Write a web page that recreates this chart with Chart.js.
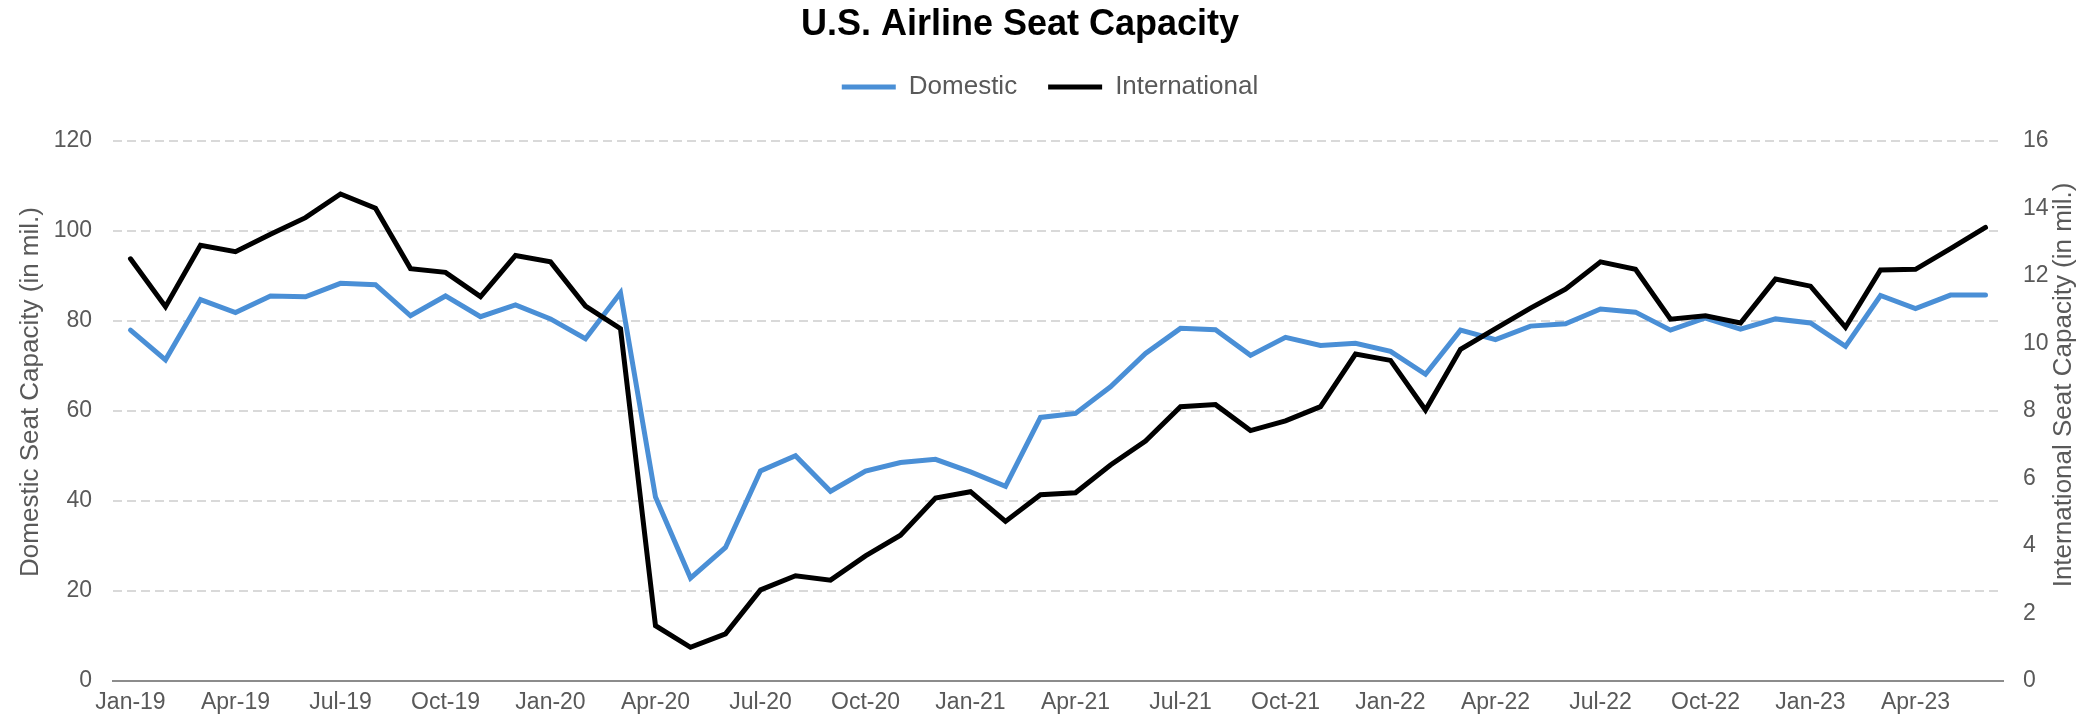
<!DOCTYPE html>
<html>
<head>
<meta charset="utf-8">
<title>U.S. Airline Seat Capacity</title>
<script src="https://cdn.jsdelivr.net/npm/chart.js@4.4.1/dist/chart.umd.min.js"></script>
<style>
  html, body { margin: 0; padding: 0; background: #fff; }
  canvas { display: block; }
</style>
</head>
<body>
<canvas id="chart" width="2100" height="718"></canvas>
<script>
// chart data
const months = [
  'Jan-19', 'Feb-19', 'Mar-19', 'Apr-19', 'May-19', 'Jun-19', 'Jul-19', 'Aug-19', 'Sep-19', 'Oct-19', 'Nov-19', 'Dec-19',
  'Jan-20', 'Feb-20', 'Mar-20', 'Apr-20', 'May-20', 'Jun-20', 'Jul-20', 'Aug-20', 'Sep-20', 'Oct-20', 'Nov-20', 'Dec-20',
  'Jan-21', 'Feb-21', 'Mar-21', 'Apr-21', 'May-21', 'Jun-21', 'Jul-21', 'Aug-21', 'Sep-21', 'Oct-21', 'Nov-21', 'Dec-21',
  'Jan-22', 'Feb-22', 'Mar-22', 'Apr-22', 'May-22', 'Jun-22', 'Jul-22', 'Aug-22', 'Sep-22', 'Oct-22', 'Nov-22', 'Dec-22',
  'Jan-23', 'Feb-23', 'Mar-23', 'Apr-23', 'May-23', 'Jun-23'
];

// domestic seats, millions (left axis)
const domestic = [
  77.9, 71.3, 84.7, 81.8, 85.5, 85.3, 88.3, 88.0, 81.1, 85.5, 80.9, 83.5,
  80.4, 76.0, 86.2, 40.8, 22.8, 29.6, 46.6, 50.0, 42.1, 46.6, 48.5, 49.2,
  46.4, 43.2, 58.5, 59.4, 65.3, 72.7, 78.3, 78.0, 72.3, 76.3, 74.5, 75.0,
  73.2, 68.1, 77.9, 75.8, 78.8, 79.3, 82.6, 81.9, 77.9, 80.6, 78.1, 80.4,
  79.5, 74.3, 85.6, 82.7, 85.7, 85.7
];

// international seats, millions (right axis)
const international = [
  12.50, 11.08, 12.90, 12.71, 13.23, 13.72, 14.42, 14.00, 12.21, 12.10, 11.38, 12.60,
  12.41, 11.10, 10.43, 1.63, 0.99, 1.39, 2.69, 3.11, 2.98, 3.70, 4.31, 5.41,
  5.60, 4.72, 5.51, 5.57, 6.39, 7.10, 8.12, 8.18, 7.41, 7.70, 8.12, 9.68,
  9.49, 8.02, 9.82, 10.43, 11.04, 11.60, 12.41, 12.19, 10.71, 10.81, 10.60, 11.90,
  11.69, 10.47, 12.17, 12.19, 12.80, 13.43
];

const chartTitle = 'U.S. Airline Seat Capacity';
const leftTitle = 'Domestic Seat Capacity (in mil.)';
const rightTitle = 'International Seat Capacity (in mil.)';

const fontFamily = '"Liberation Sans", Arial, Helvetica, sans-serif';
const textGray = '#595959';

Chart.defaults.font.family = fontFamily;
Chart.defaults.color = textGray;

// chart title and axis titles (both read bottom to top, like the original)
const titlesPlugin = {
  id: 'titles',
  afterDraw(chart) {
    const ctx = chart.ctx;
    ctx.save();
    ctx.textAlign = 'center';
    ctx.textBaseline = 'middle';

    ctx.fillStyle = '#000';
    ctx.font = 'bold 36px ' + fontFamily;
    ctx.fillText(chartTitle, 1020, 25.5);

    ctx.fillStyle = textGray;
    ctx.font = '26px ' + fontFamily;

    ctx.save();
    ctx.translate(31, 392);
    ctx.rotate(-Math.PI / 2);
    ctx.fillText(leftTitle, 0, 0);
    ctx.restore();

    ctx.save();
    ctx.translate(2064, 385);
    ctx.rotate(-Math.PI / 2);
    ctx.fillText(rightTitle, 0, 0);
    ctx.restore();

    ctx.restore();
  }
};

const canvas = document.getElementById('chart');

new Chart(canvas, {
  type: 'line',
  data: {
    labels: months,
    datasets: [
      {
        label: 'Domestic',
        data: domestic,
        yAxisID: 'y',
        borderColor: '#4a8fd6',
        backgroundColor: '#4a8fd6',
        borderWidth: 5,
        borderCapStyle: 'round',
        pointRadius: 0,
        tension: 0,
        order: 2,
      },
      {
        label: 'International',
        data: international,
        yAxisID: 'y1',
        borderColor: '#000000',
        backgroundColor: '#000000',
        borderWidth: 5,
        borderCapStyle: 'round',
        pointRadius: 0,
        tension: 0,
        order: 1,
      },
    ],
  },
  options: {
    responsive: false,
    animation: false,
    devicePixelRatio: 1,
    layout: {
      padding: { top: 43, left: 0, right: 0, bottom: 0 },
    },
    plugins: {
      title: { display: false },
      // empty subtitle below the legend keeps the gap above the plot
      subtitle: {
        display: true,
        text: '',
        weight: 500,
        font: { size: 10, lineHeight: 1 },
        padding: { top: 20.7, bottom: 0 },
      },
      legend: {
        display: true,
        position: 'top',
        labels: {
          usePointStyle: true,
          pointStyle: 'line',
          pointStyleWidth: 54,
          padding: 31,
          color: textGray,
          font: { size: 26 },
          sort: (a, b) => a.datasetIndex - b.datasetIndex,
        },
      },
      tooltip: { enabled: false },
    },
    scales: {
      x: {
        offset: true,
        grid: { display: false, drawTicks: false },
        border: { display: true, color: '#8c8c8c', width: 2 },
        ticks: {
          autoSkip: false,
          maxRotation: 0,
          padding: 8.5,
          color: textGray,
          font: { size: 23 },
          callback: function(value, index) {
            return index % 3 === 0 ? this.getLabelForValue(value) : '';
          },
        },
        afterFit: (scale) => { scale.height = 37.3; },
      },
      y: {
        position: 'left',
        min: 0,
        max: 120,
        ticks: { stepSize: 20, padding: 21, color: textGray, font: { size: 23 } },
        grid: { color: '#d9d9d9', lineWidth: 2, drawTicks: false },
        border: { display: false, dash: [9, 5] },
        afterFit: (scale) => { scale.width = 113; },
      },
      y1: {
        position: 'right',
        min: 0,
        max: 16,
        ticks: { stepSize: 2, padding: 20, color: textGray, font: { size: 23 } },
        grid: { display: false, drawTicks: false },
        border: { display: false },
        afterFit: (scale) => { scale.width = 97; },
      },
    },
  },
  plugins: [titlesPlugin],
});
</script>
</body>
</html>
